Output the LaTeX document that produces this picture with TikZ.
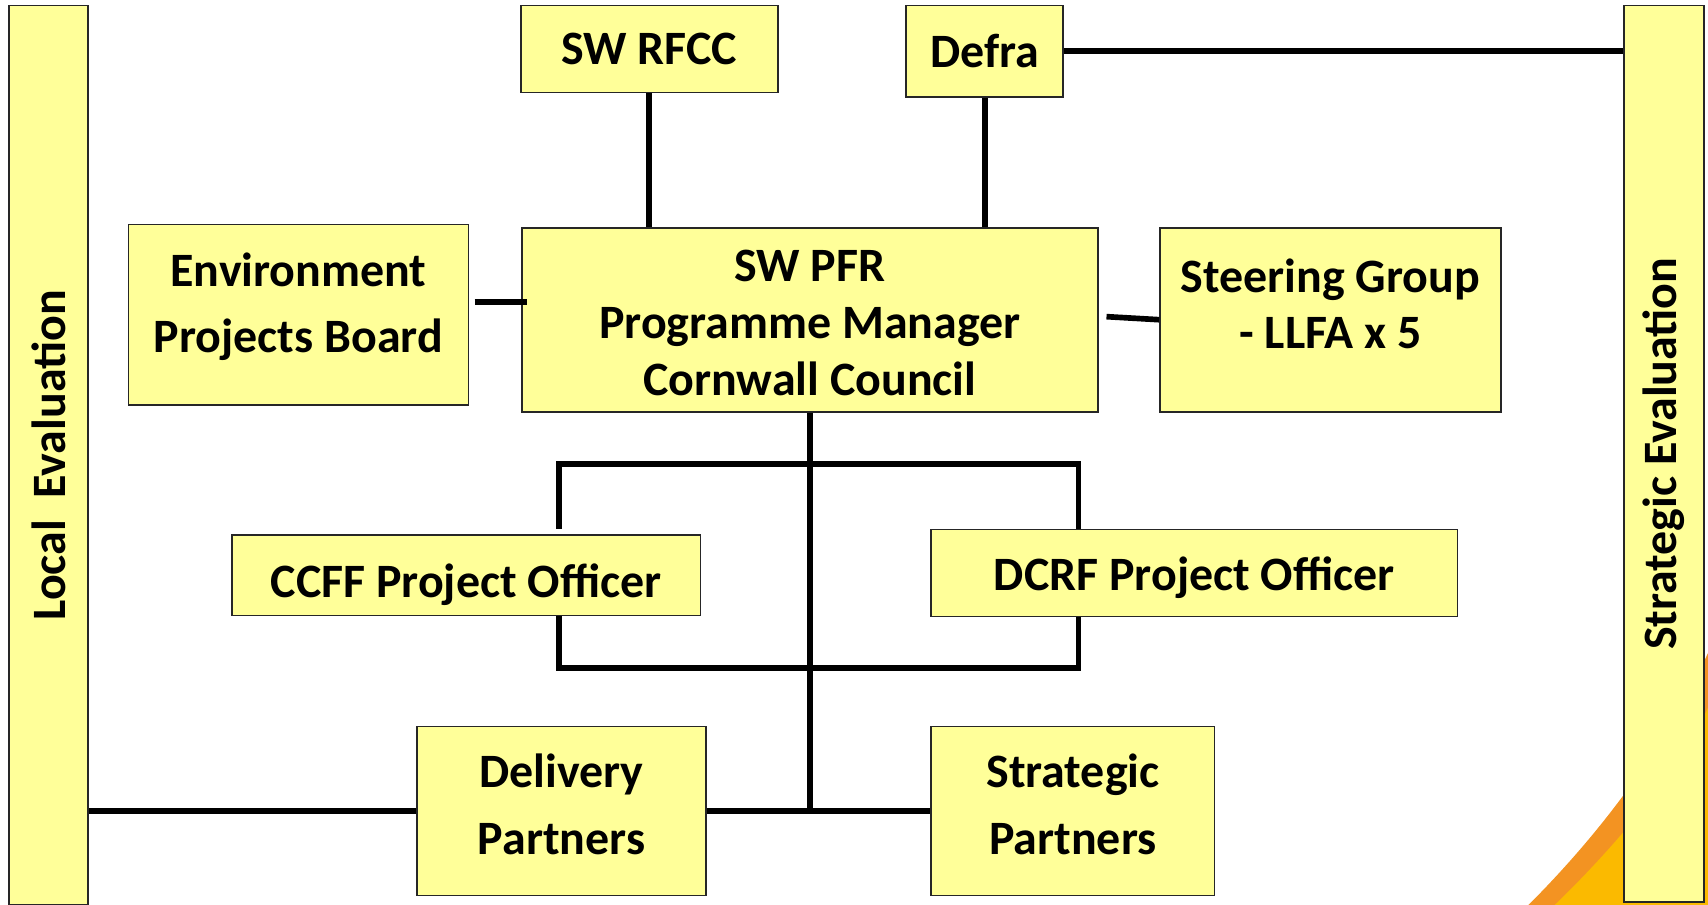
\documentclass[tikz,border=0pt]{standalone}
\usepackage{fontspec}
\setmainfont{Carlito}
\usepackage{tikz}
\usetikzlibrary{positioning}
\definecolor{pale}{HTML}{FFFF99}
\definecolor{rim}{HTML}{F39322}
\definecolor{sun}{HTML}{FBBA00}
\tikzset{
  orgbox/.style={draw=black!85, line width=0.8pt, fill=pale, align=center, inner sep=0pt,
    font=\fontsize{22}{30}\selectfont\bfseries},
  boxtext/.style={align=center, inner sep=0pt, font=\fontsize{22}{30}\selectfont\bfseries},
  tight/.style={font=\fontsize{22}{26}\selectfont\bfseries},
  evalbar/.style={orgbox, rotate=90, minimum height=36.5pt},
  link/.style={line width=2.6pt, black}
}

\begin{document}
\begin{tikzpicture}[x=0.5pt, y=-0.5pt]
\useasboundingbox (0,0) rectangle (1568,830);
% corner swoosh
\fill[rim] (1402,832) .. controls (1452,782) and (1522,702) .. (1570,595) -- (1570,832) -- cycle;
\fill[sun] (1426,832) .. controls (1474,786) and (1542,710) .. (1570,645) -- (1570,832) -- cycle;

\node[evalbar, minimum width=413pt] (local) at (44.5,418) {Local\ \ Evaluation};
\node[evalbar, minimum width=411.5pt] (steval) at (1527.5,416.5) {Strategic Evaluation};

\node[orgbox, minimum width=118pt, minimum height=40pt] (rfcc) at (596,45) {SW RFCC};
\node[orgbox, minimum width=72pt, minimum height=42pt] (defra) at (904,47) {Defra};
\node[orgbox, minimum width=156pt, minimum height=83pt] (epb) at (274,289) {};
\node[orgbox, minimum width=264.5pt, minimum height=84.5pt] (pfr) at (743.5,293.5) {};
\node[orgbox, minimum width=156.5pt, minimum height=84.5pt] (steer) at (1221.5,293.5) {};
\node[orgbox, minimum width=215pt, minimum height=37pt] (ccff) at (428,528) {};
\node[orgbox, minimum width=241.5pt, minimum height=40pt] (dcrf) at (1096.5,526) {};
\node[orgbox, minimum width=132.5pt, minimum height=77.5pt] (deliv) at (515.5,744.5) {};
\node[orgbox, minimum width=130pt, minimum height=77.5pt] (strat) at (985,744.5) {};

% texts, nudged inside their boxes
\node[boxtext] (epbtext) at ([yshift=3.75pt]epb.center) {Environment\\Projects Board};
\node[boxtext, tight] (pfrtext) at ([yshift=-1.5pt]pfr.center) {SW PFR\\Programme Manager\\Cornwall Council};
\node[boxtext, tight] (steertext) at ([yshift=7.2pt]steer.center) {Steering Group\\- LLFA x 5};
\node[boxtext] (ccfftext) at ([yshift=-4.25pt]ccff.center) {CCFF Project Officer};
\node[boxtext] (dcrftext) at ([yshift=-2pt]dcrf.center) {DCRF Project Officer};
\node[boxtext, font=\fontsize{22}{30.5}\selectfont\bfseries] (delivtext) at ([yshift=3pt]deliv.center) {Delivery\\Partners};
\node[boxtext, font=\fontsize{22}{30.5}\selectfont\bfseries] (strattext) at ([yshift=3pt]strat.center) {Strategic\\Partners};

% bracket round the project officers
\coordinate (topL) at (513,426);
\coordinate (topR) at (990,426);
\coordinate (botL) at (513,613);
\coordinate (botR) at (990,613);

\draw[link] (rfcc.south) -- (rfcc.south |- pfr.north);
\draw[link] (defra.south) -- (defra.south |- pfr.north);
\draw[link] (defra.east) -- (defra.east -| steval.north);
\draw[link] ([xshift=2.5pt, yshift=6pt]epb.east) -- ([xshift=3pt, yshift=8.25pt]pfr.west);
\draw[link] ([xshift=3.5pt, yshift=1.4pt]pfr.east) -- (steer.west);
\draw[link] (pfr.south) -- (pfr.south |- deliv.east);
\draw[link] (topL |- dcrf.north) -- (topL) -- (topR) -- (topR |- dcrf.north);
\draw[link] (botL |- ccff.south) -- (botL) -- (botR) -- (botR |- dcrf.south);
\draw[link] (deliv.east) -- (strat.west);
\draw[link] (deliv.west) -- (deliv.west -| local.south);
\end{tikzpicture}
\end{document}
